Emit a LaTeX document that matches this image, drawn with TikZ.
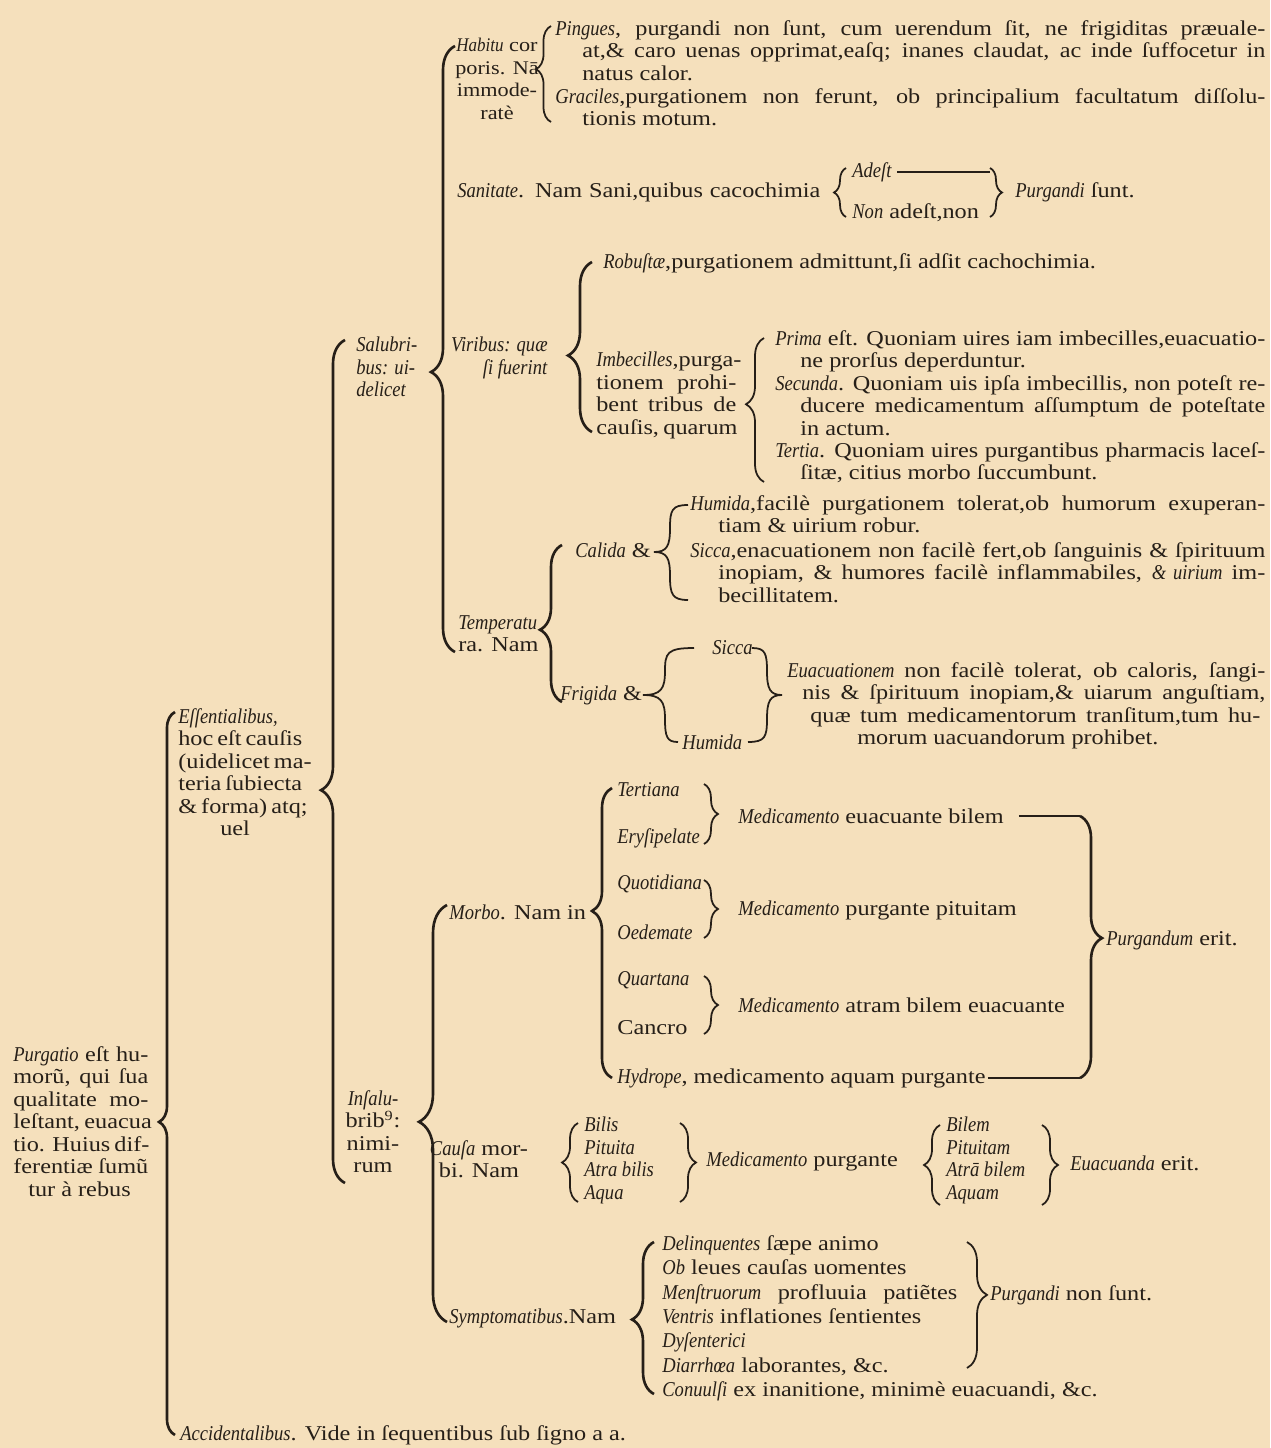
\documentclass[tikz,border=0pt]{standalone}
\usepackage{fontspec}
\setmainfont{Liberation Serif}[
  UprightFeatures={FakeStretch=1.15}, ItalicFeatures={FakeStretch=0.88}]
\usetikzlibrary{decorations.pathreplacing}
\definecolor{parchment}{RGB}{245,224,188}
\definecolor{ink}{RGB}{38,31,24}
\newcommand{\tabfnt}{\fontsize{12}{12.8}\selectfont}
% one justified line of a block
\newcommand{\jline}[2]{\makebox[#1][s]{#2}}
\tikzset{
  txt/.style={inner sep=0pt, text=ink, font=\tabfnt},
  blk/.style={txt, align=left, anchor=north west},
  lbl/.style={txt, anchor=west},
  rule/.style={draw=ink, line width=0.9pt},
  curl/.style={draw=ink, line width=1pt},
  mainbrace/.style 2 args={draw=ink, line width=1.5pt, decorate,
    decoration={brace, amplitude=#1, aspect=#2}},
  subbrace/.style 2 args={draw=ink, line width=1pt, decorate,
    decoration={brace, amplitude=#1, aspect=#2}}
}

\begin{document}
\begin{tikzpicture}[x=0.2mm, y=-0.2mm]
  \fill[parchment] (0,0) rectangle (1270,1448);
  \useasboundingbox (0,0) rectangle (1270,1448);

  % Root: definition and its two kinds of causes
  \node[blk] (purg) at (13,1046)
    {\jline{27mm}{\textit{Purgatio} eſt hu-}\\\jline{27mm}{morũ, qui ſua}\\
     \jline{27mm}{qualitate mo-}\\\jline{27mm}{leſtant, euacua}\\
     \jline{27mm}{tio. Huius dif-}\\\jline{27mm}{ferentiæ ſumũ}\\
     \hspace*{3mm}tur à rebus};
  \node[blk] (essent) at (178,708)
    {\textit{Eſſentialibus,}\\\jline{23mm}{hoc eſt cauſis}\\
     \jline{23mm}{(uidelicet ma-}\\\jline{23mm}{teria ſubiecta}\\
     \jline{23mm}{\& forma) atq;}\\\hspace*{8.4mm}uel};
  \node[lbl] (accid) at (180,1435) {\textit{Accidentalibus}. Vide in ſequentibus ſub ſigno a a.};
  \coordinate (rootT) at (175,712);
  \coordinate (rootB) at (175,1435);
  \draw[mainbrace={3.2mm}{0.433}] (rootB) -- (rootT);

  % Essentialibus: salubribus / insalubribus
  \node[blk] (salub) at (356,337) {\textit{Salubri-}\\\textit{bus: ui-}\\\textit{delicet}};
  \node[txt, align=center, anchor=north] (insal) at (373,1090)
    {\textit{Inſalu-}\\brib\textsuperscript{9}:\\nimi-\\rum};
  \coordinate (essT) at (345,340);
  \coordinate (essB) at (345,1183);
  \draw[mainbrace={4.8mm}{0.466}] (essB) -- (essT);

  % Salubribus branch
  \coordinate (salT) at (455,46);
  \coordinate (salB) at (455,652);
  \draw[mainbrace={4.8mm}{0.462}] (salB) -- (salT);

  % Row: habitus corporis
  \node[txt, align=center, anchor=north, font=\fontsize{11}{12.8}\selectfont] (habitu) at (497,38)
    {\textit{Habitu} cor\\poris. Nā\\immode-\\ratè};
  \node[blk] (pingues) at (555,20)
    {\jline{142mm}{\textit{Pingues}, purgandi non ſunt, cum uerendum ſit, ne frigiditas præuale-}\\
     \hspace*{5.4mm}\jline{136.6mm}{at,\& caro uenas opprimat,eaſq; inanes claudat, ac inde ſuffocetur in}\\
     \hspace*{5.4mm}natus calor.};
  \node[blk] (gracil) at (555,88)
    {\jline{142mm}{\textit{Graciles},purgationem non ferunt, ob principalium facultatum diſſolu-}\\
     \hspace*{5.4mm}tionis motum.};
  \coordinate (habT) at (551,26);
  \coordinate (habB) at (551,122);
  \draw[subbrace={3mm}{0.55}] (habB) -- (habT);

  % Row: sanitas
  \node[lbl] (sanit) at (457,192) {\jline{72.6mm}{\textit{Sanitate}. Nam Sani,quibus cacochimia}};
  \node[lbl] (adest) at (852,172) {\textit{Adeſt}};
  \node[lbl] (nonad) at (852,213) {\textit{Non} adeſt,non};
  \node[lbl] (purgS) at (1015,192) {\textit{Purgandi} ſunt.};
  \coordinate (sanT) at (846,168);
  \coordinate (sanB) at (846,217);
  \coordinate (sanRT) at (990,168);
  \coordinate (sanRB) at (990,217);
  \draw[subbrace={2.4mm}{0.5}] (sanB) -- (sanT);
  \draw[subbrace={2.4mm}{0.5}] (sanRT) -- (sanRB);
  \draw[rule] ([xshift=1mm]adest.east) -- (adest.east -| sanRT);

  % Row: uires
  \node[txt, align=right, anchor=north east] (virib) at (548,337)
    {\textit{Viribus: quæ}\\\textit{ſi fuerint}};
  \node[lbl] (robust) at (603,263) {\textit{Robuſtæ},purgationem admittunt,ſi adſit cachochimia.};
  \node[blk] (imbec) at (596,352)
    {\jline{28mm}{\textit{Imbecilles},purga-}\\\jline{28mm}{tionem prohi-}\\
     \jline{28mm}{bent tribus de}\\\jline{28mm}{cauſis, quarum}};
  \coordinate (virT) at (592,262);
  \coordinate (virB) at (592,432);
  \draw[mainbrace={4.8mm}{0.45}] (virB) -- (virT);
  \node[blk] (prima) at (775,330)
    {\jline{98mm}{\textit{Prima} eſt. Quoniam uires iam imbecilles,euacuatio-}\\
     \hspace*{5mm}ne prorſus deperduntur.};
  \node[blk] (secunda) at (775,375)
    {\jline{98mm}{\textit{Secunda}. Quoniam uis ipſa imbecillis, non poteſt re-}\\
     \hspace*{5mm}\jline{93mm}{ducere medicamentum aſſumptum de poteſtate}\\
     \hspace*{5mm}in actum.};
  \node[blk] (tertia) at (775,442)
    {\jline{98mm}{\textit{Tertia}. Quoniam uires purgantibus pharmacis laceſ-}\\
     \hspace*{5mm}ſitæ, citius morbo ſuccumbunt.};
  \coordinate (imbT) at (764,338);
  \coordinate (imbB) at (764,482);
  \draw[subbrace={3.6mm}{0.54}] (imbB) -- (imbT);

  % Row: temperatura
  \node[blk] (temper) at (458,615) {\textit{Temperatu}\\ra. Nam};
  \coordinate (tempT) at (562,545);
  \coordinate (tempB) at (562,702);
  \draw[mainbrace={4.4mm}{0.46}] (tempB) -- (tempT);
  \node[lbl] (calida) at (575,550) {\textit{Calida} \&};
  \node[blk] (humid1) at (690,495)
    {\jline{115mm}{\textit{Humida},facilè purgationem tolerat,ob humorum exuperan-}\\
     \hspace*{5.6mm}tiam \& uirium robur.};
  \node[blk] (sicca1) at (690,542)
    {\jline{115mm}{\textit{Sicca},enacuationem non facilè fert,ob ſanguinis \& ſpirituum}\\
     \hspace*{5.6mm}\jline{109.4mm}{inopiam, \& humores facilè inflammabiles, \textit{\& uirium} im-}\\
     \hspace*{5.6mm}becillitatem.};
  \coordinate (calT) at (688,505);
  \coordinate (calM) at (654,552);
  \coordinate (calB) at (688,600);
  \draw[curl] (calT) .. controls (672,505) and (670,510) .. (670,528)
              .. controls (670,546) and (667,552) .. (calM)
              .. controls (667,552) and (670,558) .. (670,576)
              .. controls (670,594) and (672,600) .. (calB);
  \node[lbl] (frigid) at (560,695) {\textit{Frigida} \&};
  \node[lbl] (sicca2) at (712,648) {\textit{Sicca}};
  \node[lbl] (humid2) at (682,742) {\textit{Humida}};
  \coordinate (frT) at (694,648);
  \coordinate (frM) at (643,695);
  \coordinate (frB) at (678,742);
  \draw[curl] (frT) .. controls (667,648) and (665,653) .. (665,671)
              .. controls (665,689) and (661,695) .. (frM)
              .. controls (661,695) and (665,701) .. (665,719)
              .. controls (665,737) and (667,742) .. (frB);
  \coordinate (frRT) at (752,648);
  \coordinate (frRM) at (782,695);
  \coordinate (frRB) at (748,742);
  \draw[curl] (frRT) .. controls (765,648) and (767,653) .. (767,671)
              .. controls (767,689) and (770,695) .. (frRM)
              .. controls (770,695) and (767,701) .. (767,719)
              .. controls (767,737) and (765,742) .. (frRB);
  \node[blk] (euac) at (787,662)
    {\jline{95.6mm}{\textit{Euacuationem} non facilè tolerat, ob caloris, ſangi-}\\
     \hspace*{3mm}\jline{92.6mm}{nis \& ſpirituum inopiam,\& uiarum anguſtiam,}\\
     \hspace*{4.6mm}\jline{90mm}{quæ tum medicamentorum tranſitum,tum hu-}\\
     \hspace*{14mm}morum uacuandorum prohibet.};

  % Insalubribus branch
  \coordinate (insT) at (447,905);
  \coordinate (insB) at (447,1322);
  \draw[mainbrace={5.6mm}{0.48}] (insB) -- (insT);

  % Row: morbus
  \node[lbl] (morbo) at (449,912) {\textit{Morbo}. Nam in};
  \coordinate (morT) at (612,788);
  \coordinate (morB) at (612,1078);
  \draw[mainbrace={4mm}{0.576}] (morB) -- (morT);
  \node[lbl] (tertian) at (617,790) {\textit{Tertiana}};
  \node[lbl] (erysip) at (617,838) {\textit{Eryſipelate}};
  \node[lbl] (quotid) at (617,884) {\textit{Quotidiana}};
  \node[lbl] (oedem) at (617,932) {\textit{Oedemate}};
  \node[lbl] (quart) at (617,980) {\textit{Quartana}};
  \node[lbl] (cancro) at (617,1028) {Cancro};
  \node[lbl] (hydro) at (617,1078) {\textit{Hydrope}, medicamento aquam purgante};
  \coordinate (tA) at (704,784);  \coordinate (tB) at (704,844);
  \coordinate (qA) at (704,880);  \coordinate (qB) at (704,938);
  \coordinate (kA) at (704,976);  \coordinate (kB) at (704,1034);
  \draw[subbrace={2.8mm}{0.5}] (tA) -- (tB);
  \draw[subbrace={2.8mm}{0.5}] (qA) -- (qB);
  \draw[subbrace={2.8mm}{0.5}] (kA) -- (kB);
  \node[lbl] (medA) at (738,816) {\textit{Medicamento} euacuante bilem};
  \node[lbl] (medB) at (738,910) {\textit{Medicamento} purgante pituitam};
  \node[lbl] (medC) at (738,1005) {\textit{Medicamento} atram bilem euacuante};
  \coordinate (pgT) at (1080,816);
  \coordinate (pgB) at (1080,1078);
  \draw[mainbrace={4.4mm}{0.466}] (pgT) -- (pgB);
  \draw[rule] ([xshift=3mm]medA.east) -- (pgT);
  \draw[rule] ([xshift=0.4mm]hydro.east) -- (pgB);
  \node[lbl] (purgE) at (1106,940) {\textit{Purgandum} erit.};

  % Row: causa morbi
  \node[txt, align=center, anchor=north] (causa) at (479,1140) {\textit{Cauſa} mor-\\bi. Nam};
  \node[blk] (humA) at (584,1117) {\textit{Bilis}\\\textit{Pituita}\\\textit{Atra bilis}\\\textit{Aqua}};
  \node[lbl] (medD) at (706,1161) {\textit{Medicamento} purgante};
  \node[blk] (humB) at (946,1117) {\textit{Bilem}\\\textit{Pituitam}\\\textit{Atrā bilem}\\\textit{Aquam}};
  \node[lbl] (euacE) at (1070,1163) {\textit{Euacuanda} erit.};
  \coordinate (cA) at (578,1123);  \coordinate (cB) at (578,1202);
  \coordinate (cC) at (680,1123);  \coordinate (cD) at (680,1202);
  \coordinate (cE) at (940,1125);  \coordinate (cF) at (940,1205);
  \coordinate (cG) at (1042,1125); \coordinate (cH) at (1042,1205);
  \draw[subbrace={3.2mm}{0.5}] (cB) -- (cA);
  \draw[subbrace={3.2mm}{0.5}] (cC) -- (cD);
  \draw[subbrace={3.2mm}{0.5}] (cF) -- (cE);
  \draw[subbrace={3.2mm}{0.5}] (cG) -- (cH);

  % Row: symptomata
  \node[lbl] (sympt) at (449,1318) {\textit{Symptomatibus}.Nam};
  \node[blk, font=\fontsize{12}{13.9}\selectfont] (symlist) at (662,1235)
    {\textit{Delinquentes} ſæpe animo\\
     \textit{Ob} leues cauſas uomentes\\
     \jline{59mm}{\textit{Menſtruorum} profluuia patiẽtes}\\
     \textit{Ventris} inflationes ſentientes\\
     \textit{Dyſenterici}\\
     \textit{Diarrhœa} laborantes, \&c.\\
     \textit{Conuulſi} ex inanitione, minimè euacuandi, \&c.};
  \coordinate (syT) at (654,1242);
  \coordinate (syB) at (654,1394);
  \draw[mainbrace={4.4mm}{0.49}] (syB) -- (syT);
  \coordinate (snT) at (967,1242);
  \coordinate (snB) at (967,1368);
  \draw[subbrace={4mm}{0.42}] (snT) -- (snB);
  \node[lbl] (purgN) at (990,1295) {\textit{Purgandi} non ſunt.};
\end{tikzpicture}
\end{document}
